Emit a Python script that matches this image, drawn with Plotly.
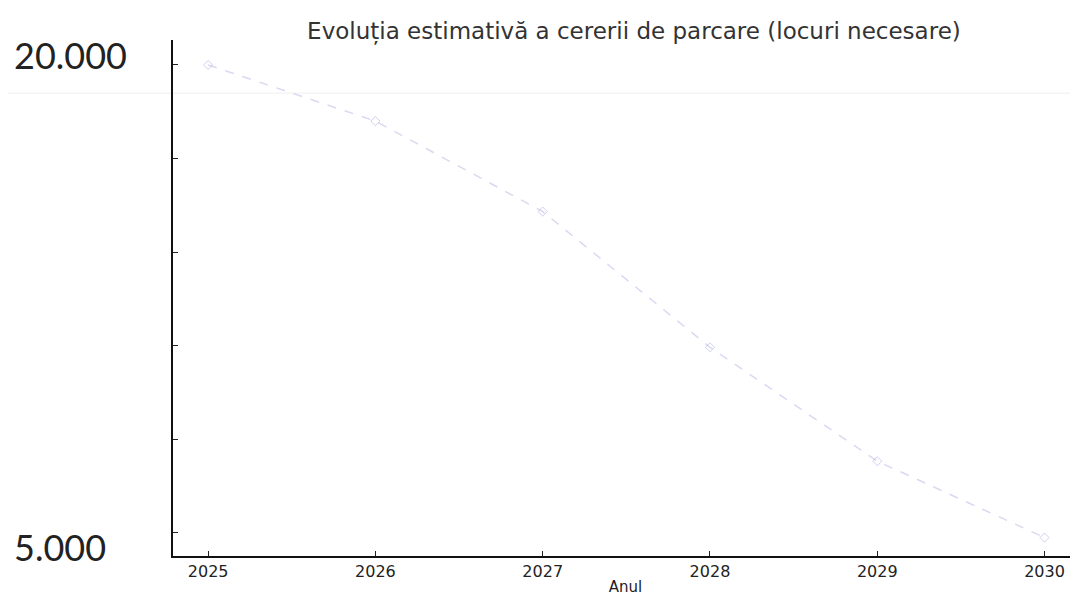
import plotly.graph_objects as go

years = [2025, 2026, 2027, 2028, 2029, 2030]
locuri = [20000, 18200, 15300, 10950, 7300, 4850]
y_ticks = [5000, 8000, 11000, 14000, 17000, 20000]
big_labels = ["20.000", "5.000"]
big_label_vals = [20000, 5000]

fig = go.Figure()
fig.add_trace(go.Scatter(
    x=years, y=locuri, mode="lines+markers",
    line=dict(color="rgba(170,170,225,0.45)", width=1.5, dash="dash"),
    marker=dict(symbol="diamond-open", size=7, color="rgba(170,170,225,0.55)", line=dict(width=1)),
    showlegend=False,
))

fig.update_layout(
    width=1070, height=592,
    margin=dict(l=165, r=0, t=32, b=44),
    paper_bgcolor="white", plot_bgcolor="white",
    title=dict(text="Evoluția estimativă a cererii de parcare (locuri necesare)",
               x=0.585, xanchor="center", y=0.962, yanchor="middle",
               font=dict(family="DejaVu Sans", size=23, color="#333")),
    font=dict(family="DejaVu Sans", color="#222"),
)
fig.update_xaxes(
    range=[2024.79, 2030.2], tickvals=years, ticktext=[str(y) for y in years],
    ticks="inside", ticklen=5, tickcolor="#222", showgrid=False, zeroline=False,
    showline=True, linecolor="#111", linewidth=1.5,
    tickfont=dict(size=16, color="#222"),
    title=dict(text="Anul", font=dict(size=15, color="#222"), standoff=2),
)
fig.update_yaxes(
    range=[4260, 20800], tickvals=y_ticks, showticklabels=False,
    ticks="inside", ticklen=5, tickcolor="#222", showgrid=False, zeroline=False,
    showline=True, linecolor="#111", linewidth=1.5,
)
shifts = [10, -14]
for txt, v, s in zip(big_labels, big_label_vals, shifts):
    fig.add_annotation(text=txt, xref="paper", yref="y", x=-0.1775, y=v, yshift=s,
                       xanchor="left", yanchor="middle", showarrow=False,
                       font=dict(family="Lato", size=36, color="#222"))
fig.add_shape(type="line", xref="paper", yref="paper", x0=-0.2, x1=1.0, y0=0.897, y1=0.897,
              line=dict(color="#efefef", width=1), layer="below")

fig.write_html("out.html")
